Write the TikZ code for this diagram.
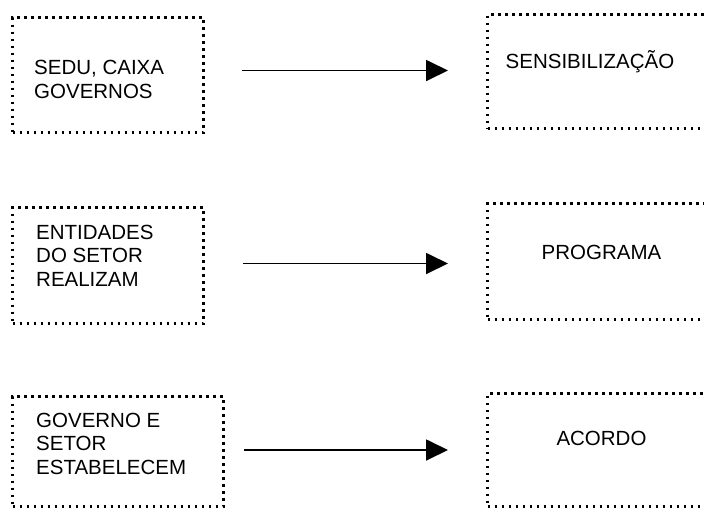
\documentclass[tikz,border=0pt]{standalone}
\usepackage{fontspec}
\setmainfont{Liberation Sans}
\usetikzlibrary{arrows.meta}
\tikzset{
  dotbox/.style={draw=black, line width=3pt, dash pattern=on 2.2pt off 4.8pt, inner sep=0pt, anchor=north west},
  lbl/.style={inner sep=0pt, align=left, anchor=base west, font=\fontsize{20.5}{23.3}\selectfont},
  clbl/.style={inner sep=0pt, anchor=base, font=\fontsize{20.5}{23.3}\selectfont},
  arr/.style={line width=1.8pt, -{Triangle[length=22pt,width=21pt]}}
}
\begin{document}
\begin{tikzpicture}[x=1pt,y=-1pt]
\useasboundingbox (0,0) rectangle (704,507);
\clip (0,0) rectangle (704,507);
% left boxes
\node[dotbox, minimum width=191pt, minimum height=115pt] (a1) at (11,16) {};
\node[dotbox, minimum width=191pt, minimum height=116pt] (a2) at (11,206) {};
\node[dotbox, minimum width=211pt, minimum height=110pt] (a3) at (11,395) {};
% right boxes
\node[dotbox, minimum width=240pt, minimum height=114pt] (b1) at (486,13) {};
\node[dotbox, minimum width=240pt, minimum height=116pt] (b2) at (486,202) {};
\node[dotbox, minimum width=240pt, minimum height=113pt] (b3) at (486,392) {};
% texts (anchor at baseline of last line)
\node[lbl] (t1) at (34,98) {SEDU, CAIXA\\GOVERNOS};
\node[lbl] (t2) at (36,286) {ENTIDADES\\DO SETOR\\REALIZAM};
\node[lbl] (t3) at (36,474) {GOVERNO E\\SETOR\\ESTABELECEM};
\node[clbl] (u1) at (590,68) {SENSIBILIZAÇÃO};
\node[clbl] (u2) at (601.5,259) {PROGRAMA};
\node[clbl] (u3) at (601.5,445) {ACORDO};
% arrows
\draw[arr] (a1.east |- b1.west) ++(37,-1) -- ([xshift=-38pt,yshift=1pt]b1.west);
\draw[arr] (a2.east |- b2.west) ++(38,2) -- ([xshift=-38pt,yshift=-2pt]b2.west);
\draw[arr] (a3.east |- b3.west) ++(19,0) -- ([xshift=-38pt]b3.west);
\end{tikzpicture}
\end{document}
